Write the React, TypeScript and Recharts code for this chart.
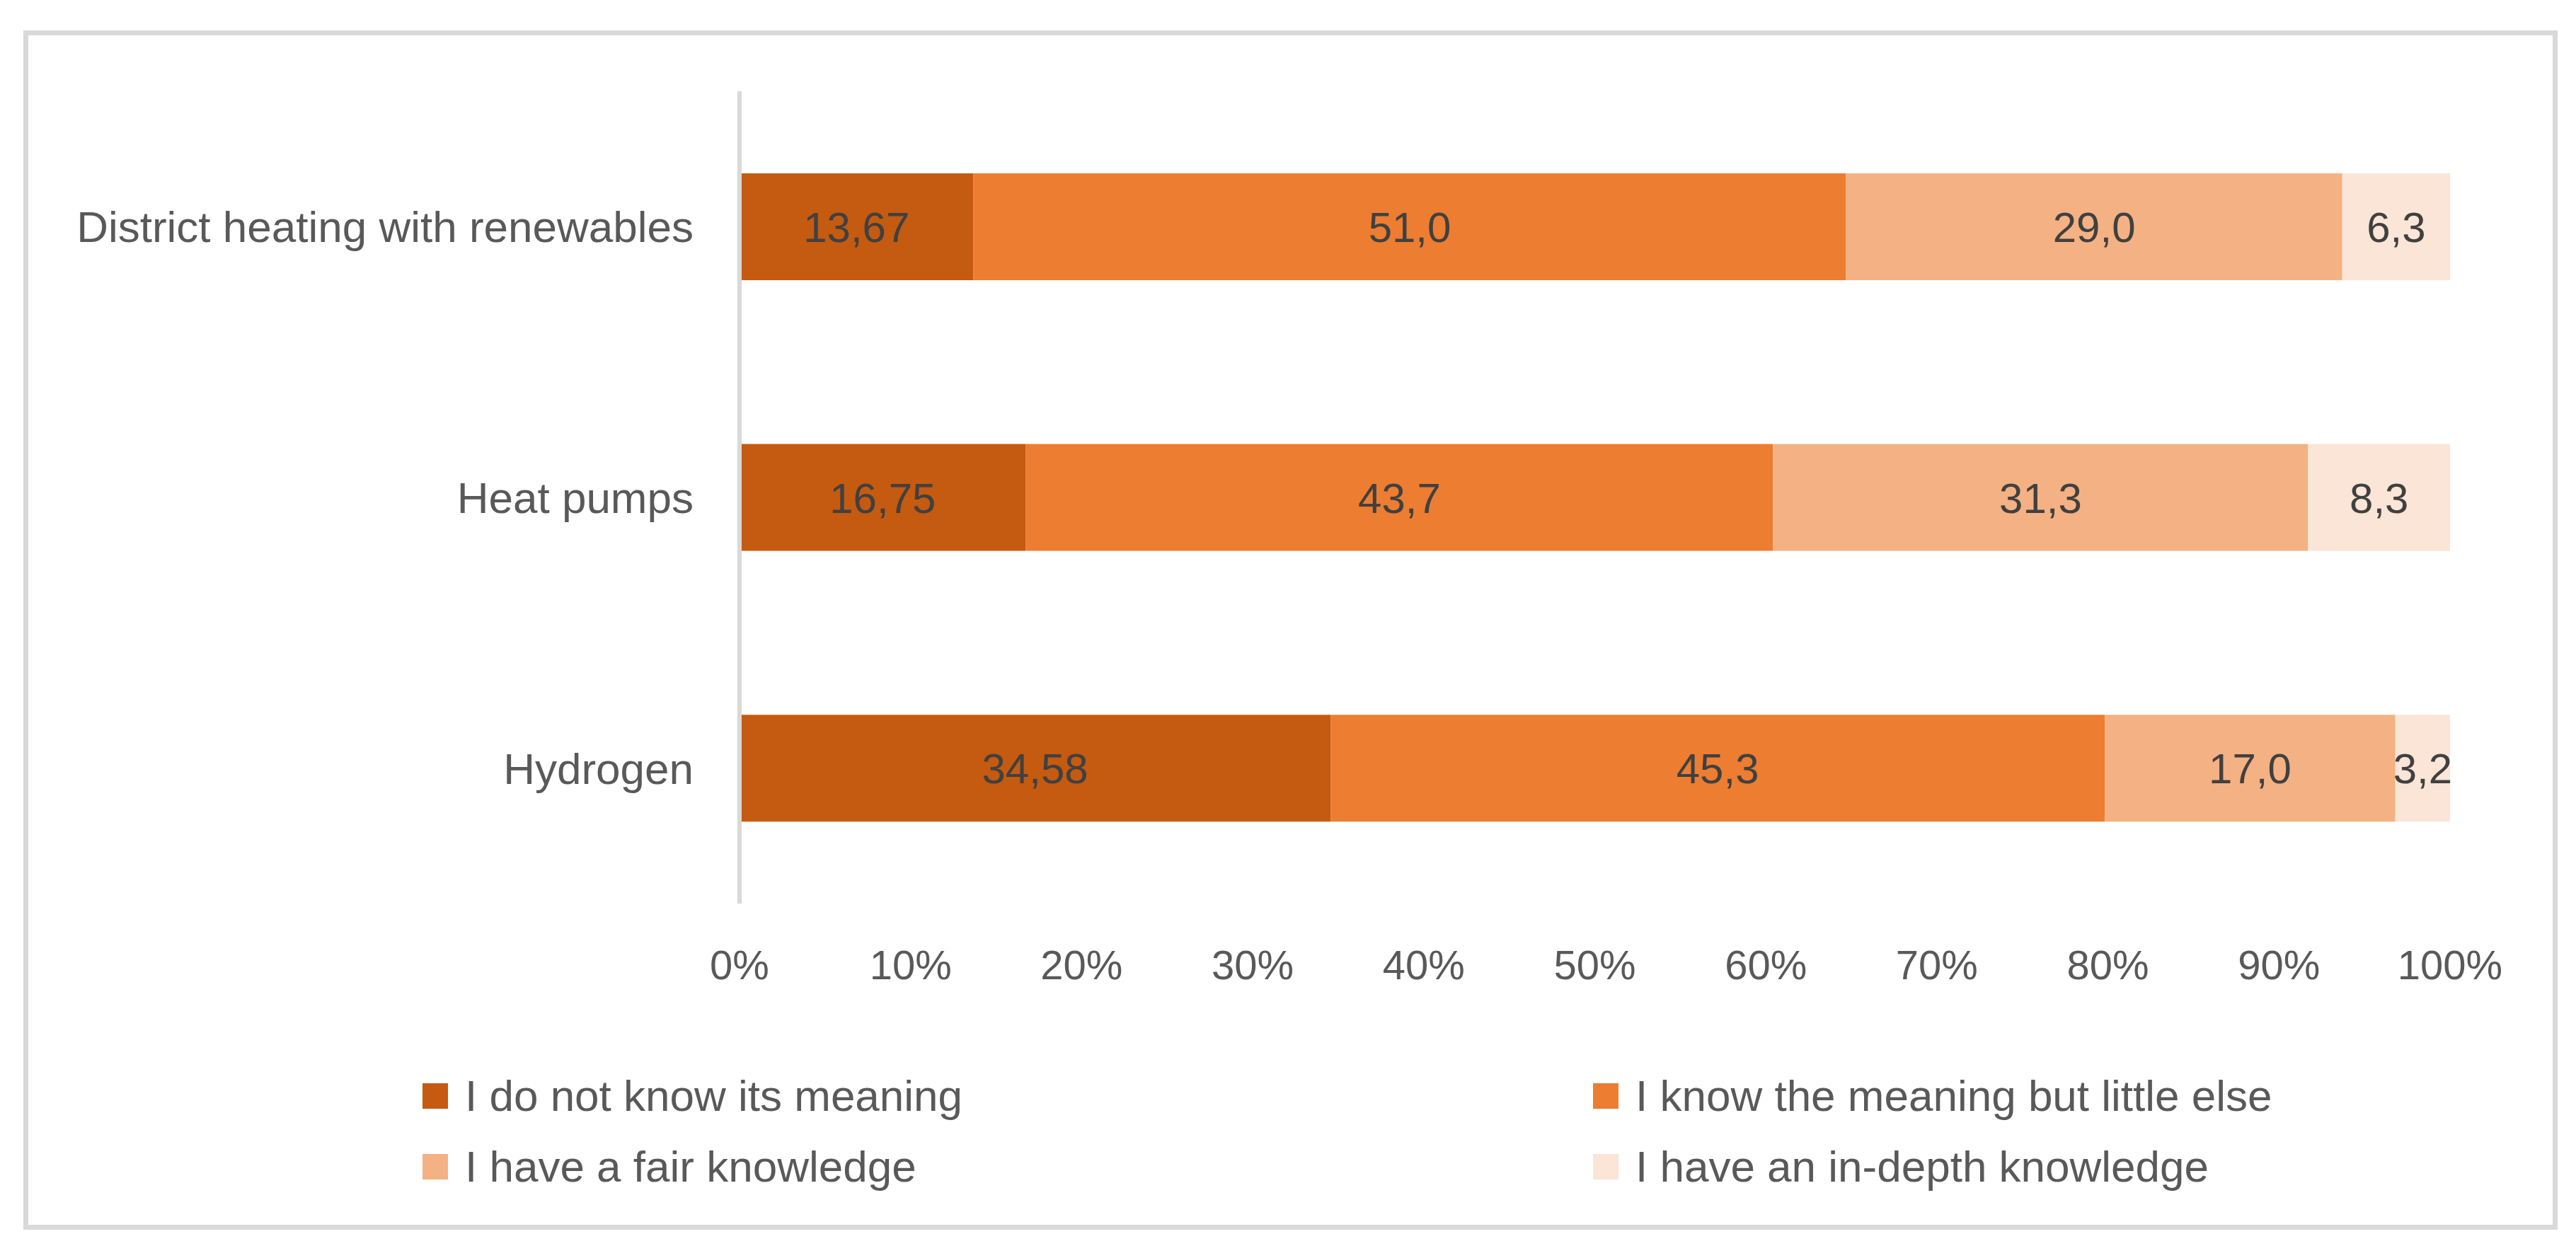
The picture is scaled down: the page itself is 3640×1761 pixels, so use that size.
import React from 'react';
import { BarChart, Bar, XAxis, YAxis, Legend, LabelList } from 'recharts';

const categories = ['District heating with renewables', 'Heat pumps', 'Hydrogen'];
const seriesNames = [
  'I do not know its meaning',
  'I know the meaning but little else',
  'I have a fair knowledge',
  'I have an in-depth knowledge',
];
const doNotKnow = [13.67, 16.75, 34.58];
const knowMeaning = [51.0, 43.7, 45.3];
const fairKnowledge = [29.0, 31.3, 17.0];
const inDepthKnowledge = [6.3, 8.3, 3.2];
const labelDecimals = [2, 1, 1, 1];
const xTicks = [0, 0.1, 0.2, 0.3, 0.4, 0.5, 0.6, 0.7, 0.8, 0.9, 1];
const colors = ['#C55A11', '#ED7D31', '#F4B183', '#FBE5D6'];

const seriesValues = [doNotKnow, knowMeaning, fairKnowledge, inDepthKnowledge];
const keys = ['s0', 's1', 's2', 's3'];

const data = categories.map((name, i) => {
  const row: any = { name };
  seriesValues.forEach((vals, s) => {
    row[keys[s]] = vals[i];
  });
  return row;
});

const FONT = '"Liberation Sans", Arial, sans-serif';

const fmt = (v: number, d: number) => v.toFixed(d).replace('.', ',');

const makeLabel = (s: number) => (props: any) => {
  const { x, y, width, height, index } = props;
  const v = seriesValues[s][index];
  if (v == null) return null;
  return (
    <text
      x={Number(x) + Number(width) / 2}
      y={Number(y) + Number(height) / 2}
      dy="0.36em"
      textAnchor="middle"
      fontFamily={FONT}
      fontSize={60}
      fill="#404040"
    >
      {fmt(v, labelDecimals[s])}
    </text>
  );
};

const renderLegend = (props: any) => {
  const payload = [...(props.payload || [])].sort(
    (a: any, b: any) => seriesNames.indexOf(a.value) - seriesNames.indexOf(b.value)
  );
  const colX = [597, 2251];
  const rowY = [31, 131];
  return (
    <div style={{ position: 'relative', width: 3640, height: 200 }}>
      {payload.map((entry: any, i: number) => (
        <div
          key={i}
          style={{
            position: 'absolute',
            left: colX[i % 2],
            top: rowY[Math.floor(i / 2)],
            height: 36,
            display: 'flex',
            alignItems: 'center',
            whiteSpace: 'nowrap',
          }}
        >
          <div style={{ width: 36, height: 36, background: entry.color, marginRight: 24 }} />
          <span style={{ fontFamily: FONT, fontSize: 62, color: '#595959', lineHeight: '36px' }}>
            {entry.value}
          </span>
        </div>
      ))}
    </div>
  );
};

export default function App() {
  return (
    <div style={{ position: 'absolute', left: 0, top: 0, width: 3640, height: 1761, background: '#ffffff' }}>
      <div
        style={{
          position: 'absolute',
          left: 33,
          top: 43,
          width: 3581,
          height: 1695,
          border: '7px solid #d9d9d9',
          boxSizing: 'border-box',
          background: '#ffffff',
        }}
      />
      <div style={{ position: 'absolute', left: 0, top: 0 }}>
        <BarChart
          width={3640}
          height={1761}
          data={data}
          layout="vertical"
          stackOffset="expand"
          barCategoryGap="30.3%"
          margin={{ top: 129, right: 178, bottom: 384, left: 0 }}
        >
          <XAxis
            type="number"
            domain={[0, 1]}
            ticks={xTicks}
            tickFormatter={(v: number) => `${Math.round(v * 100)}%`}
            axisLine={false}
            tickLine={false}
            tickSize={0}
            tickMargin={66}
            height={100}
            interval={0}
            tick={{ fill: '#595959', fontSize: 58, fontFamily: FONT }}
          />
          <YAxis
            type="category"
            dataKey="name"
            width={1045}
            tickLine={false}
            tickSize={0}
            tickMargin={65}
            interval={0}
            axisLine={{ stroke: '#d9d9d9', strokeWidth: 6 }}
            tick={{ fill: '#595959', fontSize: 62, fontFamily: FONT }}
          />
          <Legend
            layout="vertical"
            align="center"
            verticalAlign="middle"
            itemSorter={null as any}
            wrapperStyle={{ left: 0, top: 1500, width: 3640, height: 200 }}
            content={renderLegend}
          />
          {keys.map((k, s) => (
            <Bar key={k} dataKey={k} name={seriesNames[s]} stackId="a" fill={colors[s]} isAnimationActive={false}>
              <LabelList dataKey={k} content={makeLabel(s)} />
            </Bar>
          ))}
        </BarChart>
      </div>
    </div>
  );
}
